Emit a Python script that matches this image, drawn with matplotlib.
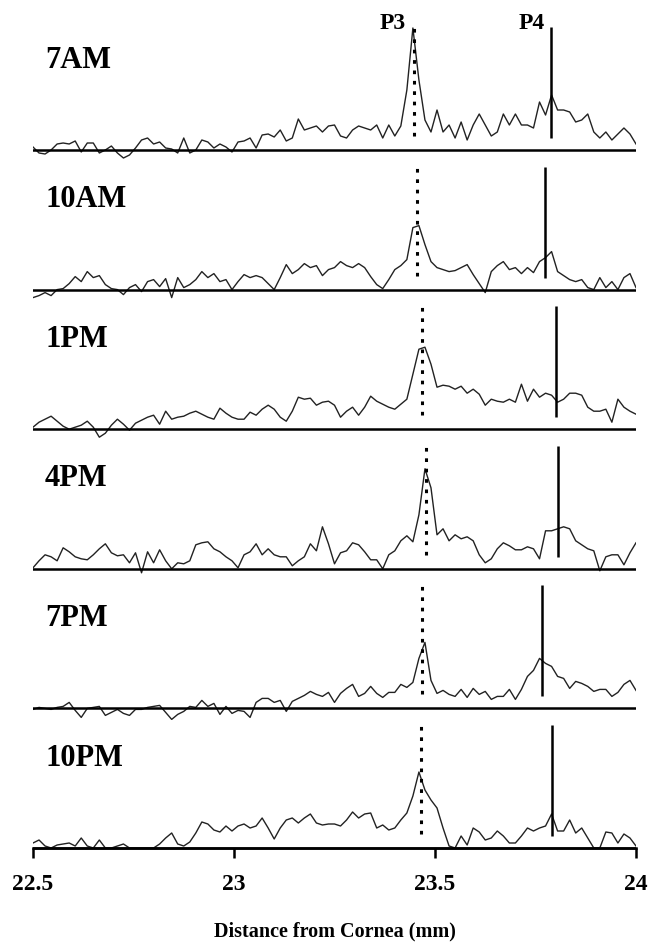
import numpy as np
import matplotlib.pyplot as plt

plt.rcParams['font.family'] = ['Liberation Serif', 'DejaVu Serif']
plt.rcParams['font.weight'] = 'bold'

# sampling positions along the scan (mm), one reading every 0.015 mm
x = np.linspace(22.5, 24.0, 101)

labels = ['7AM', '10AM', '1PM', '4PM', '7PM', '10PM']

# trace heights above each baseline (arbitrary units)
am7 = [3, -3, -4, 0, 6, 7, 6, 9, -2, 7, 7, -3, 0, 4, -3, -8, -5, 2, 10, 12,
       6, 8, 2, 1, -3, 12, -3, 0, 10, 8, 2, 6, 3, -2, 8, 9, 12, 2, 15, 16,
       13, 20, 9, 12, 31, 20, 22, 24, 18, 24, 25, 14, 12, 20, 24, 22, 20, 25, 12, 25,
       14, 24, 60, 122, 70, 30, 18, 40, 18, 25, 12, 28, 10, 25, 36, 25, 14, 18, 36, 25,
       36, 25, 25, 22, 48, 35, 55, 40, 40, 38, 28, 30, 36, 18, 12, 18, 10, 16, 22, 16, 6]
am10 = [-8, -6, -3, -6, 0, 1, 6, 13, 8, 18, 12, 14, 5, 1, 0, -5, 2, 5, -2, 8,
        10, 3, 11, -8, 12, 2, 5, 10, 18, 12, 16, 8, 10, 0, 8, 15, 12, 14, 12, 6,
        0, 12, 25, 16, 20, 26, 22, 24, 14, 20, 22, 28, 24, 22, 26, 22, 13, 5, 1, 10,
        20, 24, 30, 62, 64, 45, 28, 22, 20, 18, 19, 22, 25, 15, 6, -3, 18, 24, 28, 20,
        22, 16, 22, 17, 28, 32, 38, 18, 14, 10, 8, 10, 2, 0, 12, 2, 8, 0, 12, 16, 2]
pm1 = [2, 7, 10, 13, 8, 3, 0, 2, 4, 8, 2, -8, -4, 4, 10, 5, -1, 6, 9, 12,
       14, 5, 18, 10, 12, 13, 16, 18, 15, 12, 10, 21, 16, 12, 10, 10, 17, 14, 20, 24,
       20, 12, 8, 18, 32, 30, 31, 24, 27, 28, 24, 12, 18, 22, 14, 22, 33, 28, 25, 22,
       20, 25, 30, 55, 80, 82, 65, 42, 44, 43, 40, 43, 36, 40, 35, 24, 30, 28, 27, 30,
       27, 45, 28, 40, 32, 36, 34, 27, 30, 36, 36, 34, 22, 18, 18, 20, 7, 30, 22, 18, 15]
pm4 = [1, 8, 14, 12, 8, 21, 17, 12, 10, 9, 14, 20, 25, 16, 13, 14, 6, 16, -4, 17,
       6, 19, 8, 0, 6, 5, 8, 24, 26, 27, 20, 17, 12, 8, 1, 14, 17, 25, 14, 20,
       14, 12, 12, 3, 8, 12, 25, 18, 42, 25, 5, 16, 18, 26, 24, 17, 9, 9, 0, 14,
       18, 28, 33, 27, 54, 100, 81, 34, 40, 28, 34, 30, 32, 28, 14, 6, 10, 20, 26, 23,
       19, 19, 22, 20, 10, 38, 38, 40, 42, 40, 28, 24, 20, 18, -2, 12, 14, 14, 4, 16, 26]
pm7 = [-1, 1, 0, -1, 1, 2, 6, -2, -9, 0, 1, 2, -7, -4, -1, -5, -7, -1, -1, 1,
       2, 3, -4, -11, -6, -3, 2, 1, 8, 2, 5, -6, 2, -5, -2, -3, -9, 6, 10, 10,
       6, 8, -3, 7, 10, 13, 17, 14, 12, 16, 6, 15, 20, 24, 12, 15, 22, 15, 11, 16,
       16, 24, 21, 26, 50, 66, 28, 15, 18, 14, 12, 19, 11, 20, 14, 17, 9, 12, 12, 19,
       9, 19, 32, 38, 50, 45, 42, 32, 30, 20, 27, 25, 22, 17, 19, 19, 12, 16, 24, 28, 18]
pm10 = [5, 8, 2, 0, 3, 4, 5, 2, 10, 2, 0, 8, 0, 0, 2, 4, 0, 0, 0, 0,
        0, 4, 10, 15, 4, 2, 6, 15, 26, 24, 18, 16, 22, 17, 22, 24, 20, 22, 30, 20,
        9, 20, 28, 30, 25, 30, 34, 25, 23, 24, 24, 22, 28, 36, 30, 34, 35, 20, 23, 18,
        20, 28, 35, 52, 76, 58, 48, 40, 20, 2, 0, 12, 3, 20, 16, 8, 10, 17, 12, 5,
        5, 12, 20, 17, 20, 22, 34, 17, 17, 28, 15, 20, 10, 0, 0, 16, 15, 5, 14, 10, 2]
traces = [am7, am10, pm1, pm4, pm7, pm10]

# peak positions marked in each panel (mm)
p3_pos = [23.448, 23.454, 23.468, 23.478, 23.468, 23.464]
p4_pos = [23.789, 23.774, 23.801, 23.805, 23.767, 23.790]

xticks = [22.5, 23, 23.5, 24]
xticklabels = ['22.5', '23', '23.5', '24']

W, H = 649, 943
fig = plt.figure(figsize=(W / 100, H / 100), dpi=100)
left, right = 33, 636
base0, step = 150, 139.6
top, bot = 128, 11.6

for k in range(6):
    base = base0 + step * k
    ax = fig.add_axes([left / W, 1 - (base + bot) / H, (right - left) / W, (top + bot) / H])
    ax.set_facecolor('none')
    ax.set_xlim(22.5, 24)
    ax.set_ylim(-bot, top)
    ax.plot(x, traces[k], color='#222222', lw=1.0)
    ax.axhline(0, color='black', lw=1.8)
    ax.vlines(p3_pos[k], 14, 122, colors='black', linestyles=(0, (1.2, 2.2)), lw=2.2)
    ax.vlines(p4_pos[k], 12, 123, colors='black', lw=1.8)
    ax.text(22.53, 90, labels[k], fontsize=22, fontweight='bold', ha='left', va='center')
    for s in ax.spines.values():
        s.set_visible(False)
    ax.set_yticks([])
    if k == 0:
        ax.text(p3_pos[k] - 0.022, 127, 'P3', fontsize=17, fontweight='bold', ha='right', va='center')
        ax.text(p4_pos[k] - 0.015, 127, 'P4', fontsize=17, fontweight='bold', ha='right', va='center')
    if k < 5:
        ax.set_xticks([])
    else:
        ax.spines['bottom'].set_visible(True)
        ax.spines['bottom'].set_position(('data', 0))
        ax.spines['bottom'].set_linewidth(1.8)
        ax.set_xticks(xticks)
        ax.set_xticklabels(xticklabels, fontsize=17, fontweight='bold')
        ax.tick_params(axis='x', direction='out', length=7, width=1.8, pad=12)
        ax.set_xlabel('Distance from Cornea (mm)', fontsize=14.5, fontweight='bold')
        ax.xaxis.set_label_coords(0.5, -0.44)

fig.savefig('out.png', dpi=100)
